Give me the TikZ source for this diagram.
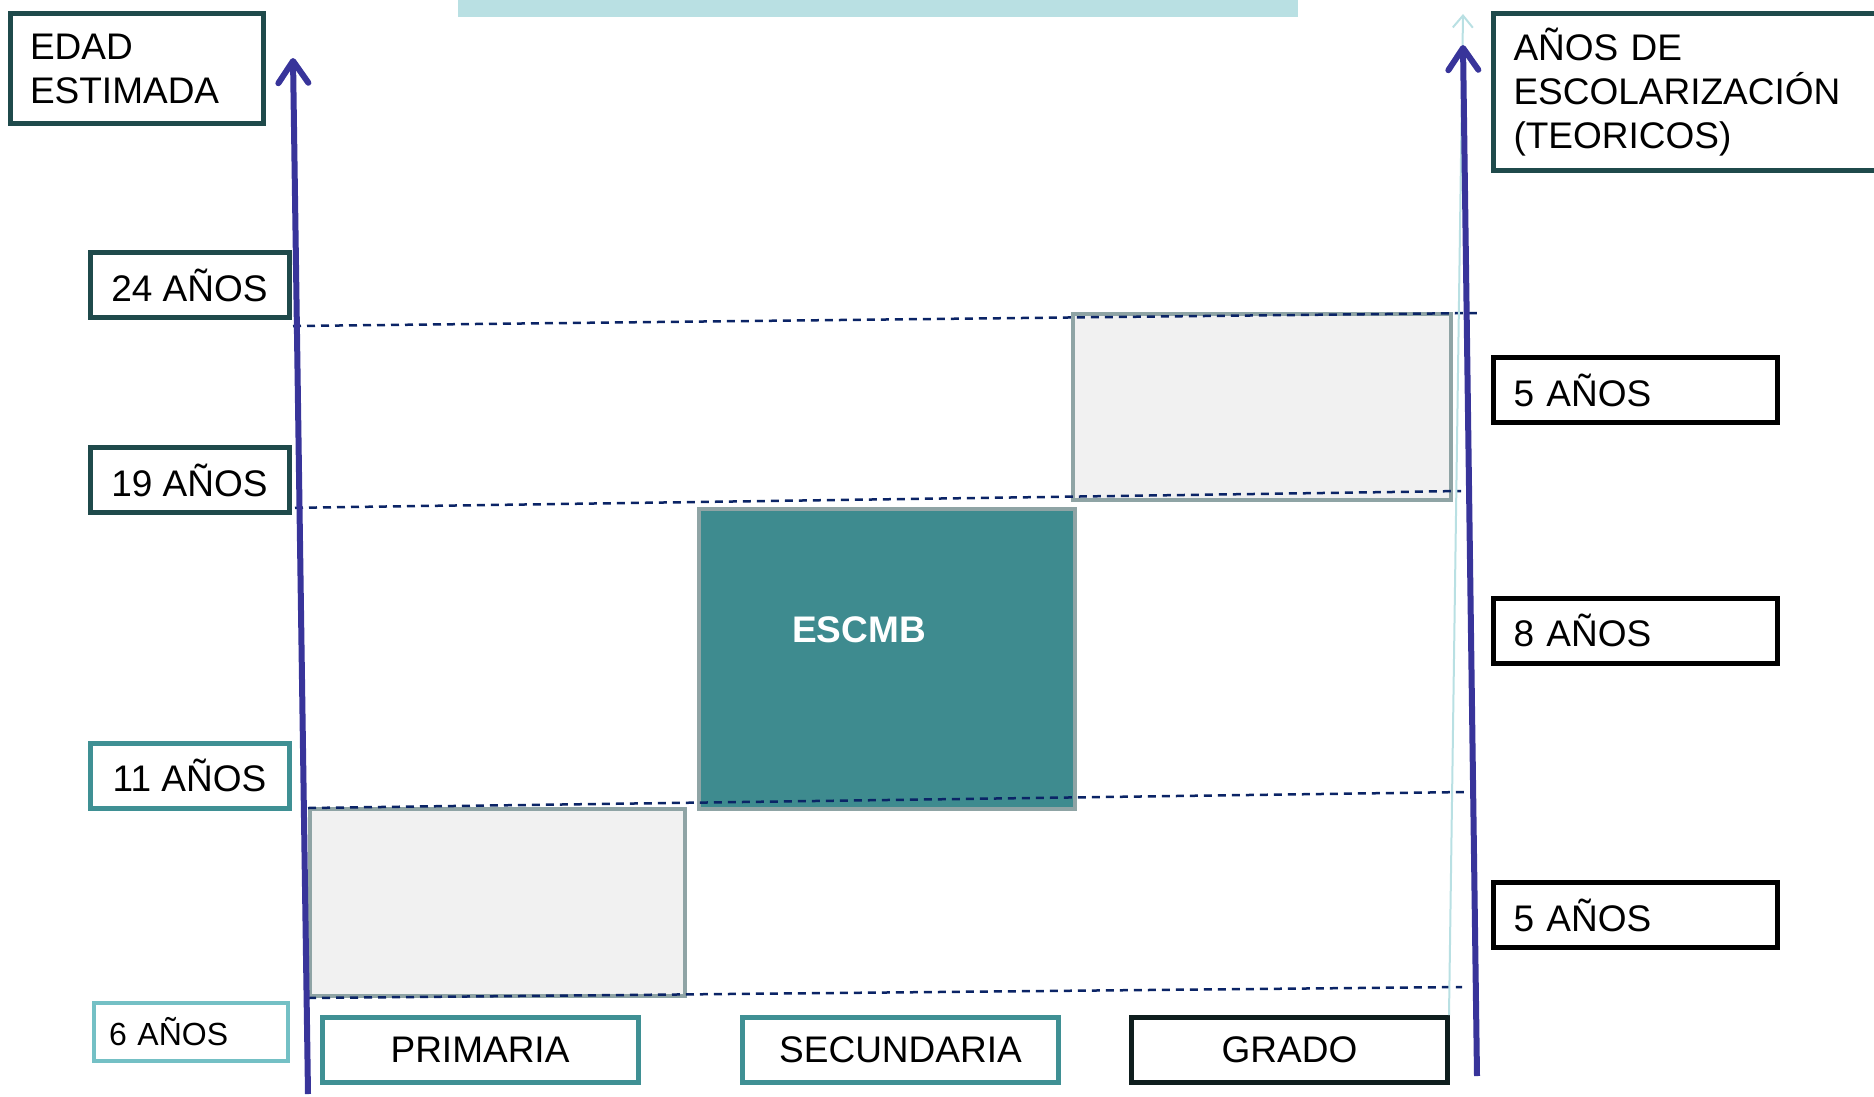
\documentclass[tikz,border=0pt]{standalone}
\usepackage{fontspec}
\setmainfont{Liberation Sans}
\usetikzlibrary{arrows.meta}

\definecolor{deepteal}{HTML}{1F4A4B}
\definecolor{midteal}{HTML}{3F9094}
\definecolor{paleteal}{HTML}{74C0C5}
\definecolor{inkgreen}{HTML}{0F1E1E}
\definecolor{axisblue}{HTML}{38349A}
\definecolor{guideblue}{HTML}{0B2466}
\definecolor{bandcyan}{HTML}{B9E0E3}
\definecolor{stepgray}{HTML}{F1F1F1}
\definecolor{stepedge}{HTML}{8FA4A5}
\definecolor{escmbfill}{HTML}{3E8B8F}

\tikzset{
  tag/.style={draw, line width=5pt, fill=white, inner sep=0pt,
    font=\fontsize{37}{44}\selectfont, minimum height=65pt},
  agetag/.style={tag, draw=deepteal, minimum width=199pt},
  leveltag/.style={tag, draw=midteal, minimum width=316pt},
  yeartag/.style={tag, draw=black, anchor=west, align=left,
    inner xsep=20pt, text width=244pt},
  headtag/.style={tag, draw=deepteal, anchor=north west, align=left,
    inner xsep=20pt},
  stepbox/.style={draw=stepedge, line width=4.5pt, fill=stepgray},
  guide/.style={guideblue, line width=2.5pt, dash pattern=on 8pt off 6pt},
  axis/.style={axisblue, line width=6pt,
    -{Straight Barb[length=22pt, width=30pt, round]}}
}

\begin{document}
\begin{tikzpicture}[x=1pt, y=-1pt]
	\useasboundingbox (0,0) rectangle (1874,1096);
	\clip (0,0) rectangle (1874,1096);
	\fill[bandcyan] (458,0) rectangle (1298,17);

	% steps
	\draw[stepbox] (310,809) rectangle (685,996);
	\draw[stepbox, fill=escmbfill] (699,509) rectangle (1075,809);
	\draw[stepbox] (1073,314) rectangle (1451,500);
	\node[text=white, font=\fontsize{37}{44}\selectfont\bfseries] (escmb) at (859,630) {ESCMB};

	% age guides
	\draw[guide] (293,326) -- (1477,313);
	\draw[guide] (281,508) -- (1461,491);
	\draw[guide] (308,808) -- (1465,792);
	\draw[guide] (308,998) -- (1462,987);

	% headers
	\node[headtag, text width=213pt, minimum height=110pt] (edad) at (7.5,11) {EDAD\\ESTIMADA};
	\node[headtag, text width=400pt, minimum height=157pt] (anios) at (1491,11) {AÑOS DE\\ESCOLARIZACIÓN\\(TEORICOS)};

	% ages
	\node[agetag] (a24) at (189.5,285) {24 AÑOS};
	\node[agetag] (a19) at (189.5,480) {19 AÑOS};
	\node[agetag, draw=midteal] (a11) at (189.5,775.5) {11 AÑOS};
	\node[tag, draw=paleteal, line width=4pt, anchor=west, align=left, inner xsep=15pt,
		text width=164pt, minimum height=58pt, font=\fontsize{32}{36}\selectfont] (a6) at (92,1031.5) {6 AÑOS};

	% levels
	\node[leveltag] (prim) at (480,1050) {PRIMARIA};
	\node[leveltag] (secu) at (900.5,1050) {SECUNDARIA};
	\node[leveltag, draw=inkgreen] (grado) at (1289.5,1050) {GRADO};

	% years
	\node[yeartag] (y5a) at (1491,390) {5 AÑOS};
	\node[yeartag] (y8) at (1491,630.5) {8 AÑOS};
	\node[yeartag] (y5b) at (1491,915) {5 AÑOS};

	% axes
	\draw[bandcyan, line width=2pt, -{Straight Barb[length=12pt, width=20pt]}] (1449,1015) -- (1463,14);
	\draw[axis] (308,1094) -- (293,58);
	\draw[axis] (1477,1076) -- (1463,45);
\end{tikzpicture}
\end{document}
